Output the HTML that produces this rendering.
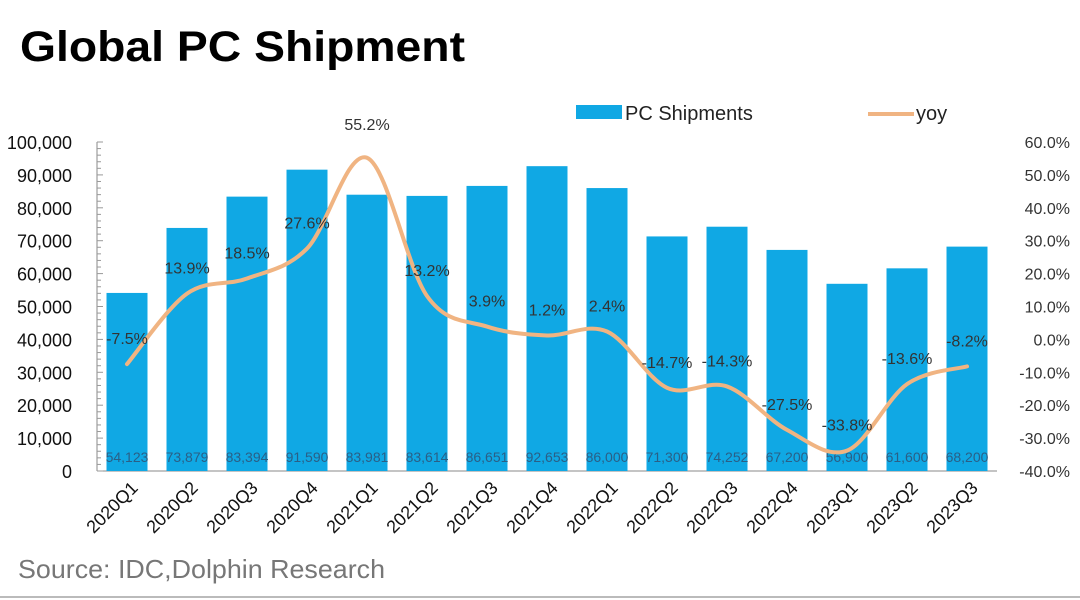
<!DOCTYPE html>
<html><head><meta charset="utf-8"><style>
body{margin:0;background:#fff;}
svg{display:block;font-family:"Liberation Sans","DejaVu Sans",sans-serif;}
</style></head><body>
<svg id="c" width="1080" height="600">
<rect x="0" y="0" width="1080" height="600" fill="#fff"/>
<text x="20" y="61" font-size="43" font-weight="bold" fill="#000" textLength="445" lengthAdjust="spacingAndGlyphs">Global PC Shipment</text>
<g>
<rect x="576" y="105" width="46" height="14" fill="#10a8e4"/>
<text x="625" y="120" font-size="20" fill="#222">PC Shipments</text>
<line x1="868" y1="114" x2="914" y2="114" stroke="#f0b482" stroke-width="4"/>
<text x="916" y="120" font-size="20" fill="#222">yoy</text>
</g>
<g id="plot"></g>
<text x="18" y="578" font-size="26" fill="#777" textLength="367" lengthAdjust="spacingAndGlyphs">Source: IDC,Dolphin Research</text>
<line x1="0" y1="597" x2="1080" y2="597" stroke="#bbb" stroke-width="2"/>
</svg>
<script>
const categories=["2020Q1","2020Q2","2020Q3","2020Q4","2021Q1","2021Q2","2021Q3","2021Q4","2022Q1","2022Q2","2022Q3","2022Q4","2023Q1","2023Q2","2023Q3"];
const shipments=[54123,73879,83394,91590,83981,83614,86651,92653,86000,71300,74252,67200,56900,61600,68200];
const yoy=[-7.5,13.9,18.5,27.6,55.2,13.2,3.9,1.2,2.4,-14.7,-14.3,-27.5,-33.8,-13.6,-8.2];
const leftTicks=[0,10000,20000,30000,40000,50000,60000,70000,80000,90000,100000];
const rightTicks=[-40,-30,-20,-10,0,10,20,30,40,50,60];

const NS="http://www.w3.org/2000/svg";
const g=document.getElementById('plot');
const X0=97,X1=997,Y0=471,Y1=142;
const step=(X1-X0)/categories.length;
const xc=i=>X0+step*(i+0.5);
const yL=v=>Y0-(v/100000)*(Y0-Y1);
const yR=v=>Y0-((v+40)/100)*(Y0-Y1);
function mk(t,a,txt){const e=document.createElementNS(NS,t);for(const k in a)e.setAttribute(k,a[k]);if(txt!==undefined)e.textContent=txt;g.appendChild(e);return e;}

let ax=mk('line',{x1:X0,y1:Y1,x2:X0,y2:Y0,stroke:'#888','stroke-width':1});


let bx=mk('line',{x1:X0,y1:Y0,x2:X1,y2:Y0,stroke:'#888','stroke-width':1});


for(let v=0;v<=100000;v+=2000){
  const t=mk('line',{x1:X0,x2:X0+(v%10000===0?6:4),y1:yL(v),y2:yL(v),stroke:'#999','stroke-width':1});
  
  
}
leftTicks.forEach(v=>{
  const t=mk('text',{x:X0-25,y:yL(v)+7,'font-size':18,fill:'#111','text-anchor':'end'},v.toLocaleString('en-US'));
  
  
});
rightTicks.forEach(v=>{
  const t=mk('text',{x:1070,y:yR(v)+6,'font-size':16,fill:'#333','text-anchor':'end'},v.toFixed(1)+'%');
  
  
});
shipments.forEach((v,i)=>{
  const w=41;
  const r=mk('rect',{x:xc(i)-w/2,y:yL(v),width:w,height:Y0-yL(v),fill:'#10a8e4'});
  
  
  const t=mk('text',{x:xc(i),y:Y0-9,'font-size':14,fill:'#2a5f86','text-anchor':'middle'},v.toLocaleString('en-US'));
  
  
  const c=mk('text',{transform:`translate(${xc(i)+12},${Y0+18}) rotate(-45)`,'font-size':18,fill:'#111','text-anchor':'end'},categories[i]);
  
  
});
const pts=yoy.map((v,i)=>[xc(i),yR(v)]);
let d=`M${pts[0][0]},${pts[0][1]}`;
for(let i=0;i<pts.length-1;i++){
  const p0=pts[Math.max(i-1,0)],p1=pts[i],p2=pts[i+1],p3=pts[Math.min(i+2,pts.length-1)];
  const k=1/6;
  d+=` C${p1[0]+(p2[0]-p0[0])*k},${p1[1]+(p2[1]-p0[1])*k} ${p2[0]-(p3[0]-p1[0])*k},${p2[1]-(p3[1]-p1[1])*k} ${p2[0]},${p2[1]}`;
}
const ln=mk('path',{d:d,fill:'none',stroke:'#f0b482','stroke-width':4,'stroke-linecap':'round'});


yoy.forEach((v,i)=>{
  const t=mk('text',{x:xc(i),y:yR(v)-(v>50?28:20),'font-size':16,fill:'#333','text-anchor':'middle'},v.toFixed(1)+'%');
  
  
});
</script>
</body></html>
